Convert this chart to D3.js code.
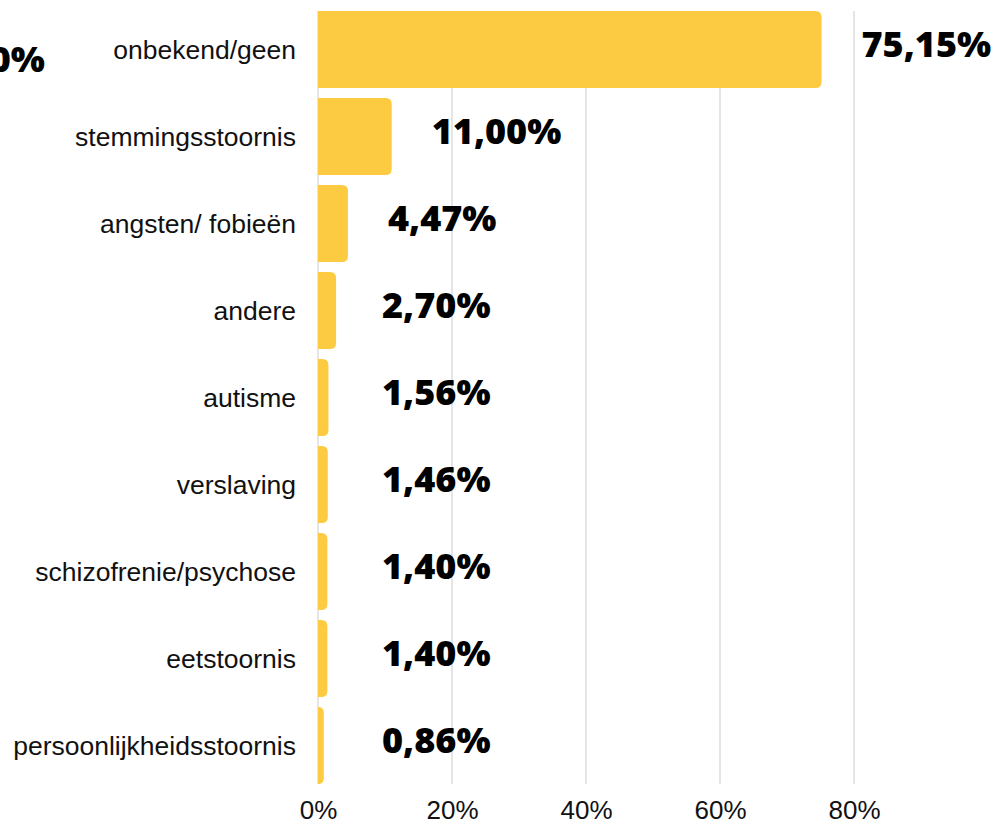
<!DOCTYPE html>
<html>
<head>
<meta charset="utf-8">
<script src="https://cdn.jsdelivr.net/npm/d3@7"></script>
<style>
  body { margin: 0; background: #fff; }
  svg { display: block; }
  .cat { font-family: "Liberation Sans", Arial, sans-serif; font-size: 26.5px; fill: #111; }
  .tick text { font-family: "Liberation Sans", Arial, sans-serif; font-size: 26px; fill: #111; }
  .val { font-family: "Open Sans", sans-serif; font-weight: 800; font-size: 36px; fill: #000; }
</style>
</head>
<body>
<svg id="chart"></svg>
<script>
// data
const categories = ["onbekend/geen", "stemmingsstoornis", "angsten/ fobieën", "andere", "autisme",
  "verslaving", "schizofrenie/psychose", "eetstoornis", "persoonlijkheidsstoornis"];
const values = [75.15, 11.00, 4.47, 2.70, 1.56, 1.46, 1.40, 1.40, 0.86];
const valueLabels = ["75,15%", "11,00%", "4,47%", "2,70%", "1,56%", "1,46%", "1,40%", "1,40%", "0,86%"];
const totalLabel = "100,00%";
const xTicks = [0, 20, 40, 60, 80];

const W = 996, H = 825;
const svg = d3.select("#chart").attr("width", W).attr("height", H);

const x = d3.scaleLinear().domain([0, 80]).range([318, 854]);
const y = d3.scaleBand().domain(categories).range([11, 784])
  .paddingInner(0.115).paddingOuter(0);

// grid
svg.append("g").selectAll("line").data(xTicks).enter().append("line")
  .attr("x1", d => x(d)).attr("x2", d => x(d))
  .attr("y1", 11).attr("y2", 784)
  .attr("stroke", "#d4d4d4").attr("stroke-width", 1.2);

// bars with rounded right end
function barPath(x0, x1, y0, h, r) {
  const w = x1 - x0;
  r = Math.min(r, w, h / 2);
  return `M${x0},${y0}H${x1 - r}Q${x1},${y0} ${x1},${y0 + r}V${y0 + h - r}Q${x1},${y0 + h} ${x1 - r},${y0 + h}H${x0}Z`;
}
svg.append("g").selectAll("path").data(values).enter().append("path")
  .attr("d", (d, i) => barPath(x(0), x(d), y(categories[i]), y.bandwidth(), 6))
  .attr("fill", "#fdcb41");

// category labels
svg.append("g").selectAll("text").data(categories).enter().append("text")
  .attr("class", "cat")
  .attr("x", 296)
  .attr("y", d => y(d) + y.bandwidth() / 2)
  .attr("dy", "0.35em")
  .attr("text-anchor", "end")
  .text(d => d);

// value labels
svg.append("g").selectAll("text").data(values).enter().append("text")
  .attr("class", "val")
  .attr("x", d => Math.max(x(d) + 40, 382))
  .attr("y", (d, i) => y(categories[i]) + y.bandwidth() / 2 - 5)
  .attr("dy", "0.36em")
  .text((d, i) => valueLabels[i]);

// partially hidden total label at left
svg.append("text").attr("class", "val")
  .attr("x", 45).attr("y", y(categories[0]) + y.bandwidth() / 2 + 10)
  .attr("dy", "0.36em").attr("text-anchor", "end")
  .text(totalLabel);

// x axis
const xAxis = d3.axisBottom(x).tickValues(xTicks).tickFormat(d => d + "%").tickSize(0).tickPadding(0);
const ax = svg.append("g").attr("transform", "translate(0,801)").call(xAxis);
ax.select(".domain").remove();
ax.selectAll(".tick text").attr("dy", "0.71em");
</script>
</body>
</html>
